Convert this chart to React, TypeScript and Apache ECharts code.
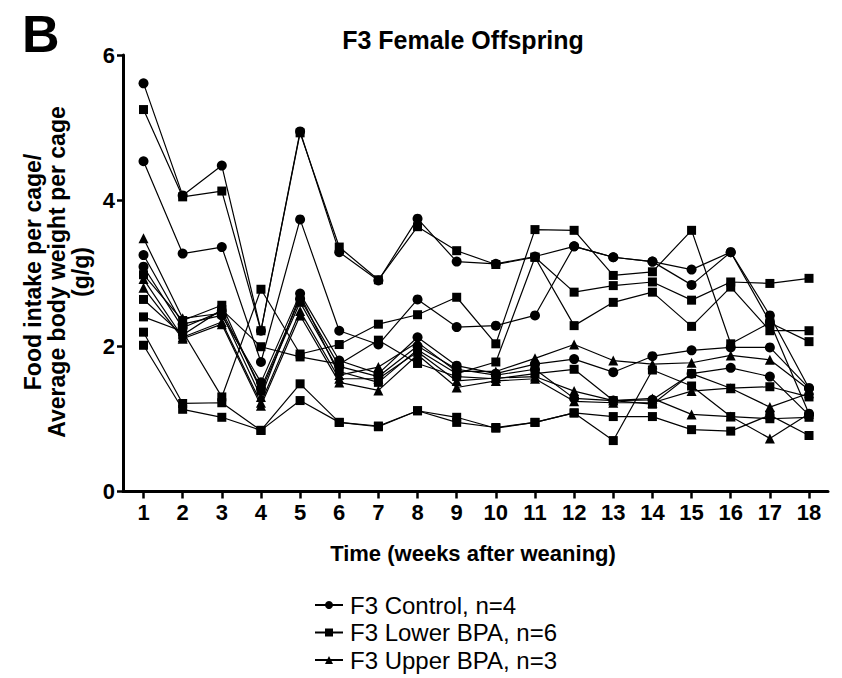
import React, { useEffect, useRef } from "react";
import * as echarts from "echarts";

const weeks = [1, 2, 3, 4, 5, 6, 7, 8, 9, 10, 11, 12, 13, 14, 15, 16, 17, 18];
const yTicks = [0, 2, 4, 6];

const controlNames = "F3 Control, n=4";
const lowerNames = "F3 Lower BPA, n=6";
const upperNames = "F3 Upper BPA, n=3";

const control1 = [5.61, 4.07, 4.48, 2.21, 4.95, 3.29, 2.9, 3.75, 3.16, 3.13, 3.23, 3.37, 3.22, 3.16, 3.05, 3.29, 2.42, 1.42];
const control2 = [4.54, 3.27, 3.36, 1.78, 3.74, 2.21, 2.02, 2.64, 2.26, 2.28, 2.42, 3.37, 3.22, 3.16, 2.84, 3.29, 2.33, 1.07];
const control3 = [3.25, 2.3, 2.42, 1.5, 2.72, 1.8, 1.62, 2.12, 1.73, 1.62, 1.75, 1.82, 1.64, 1.86, 1.94, 1.98, 1.98, 1.42];
const control4 = [3.09, 2.25, 2.48, 1.42, 2.65, 1.72, 1.58, 2.0, 1.68, 1.6, 1.68, 1.28, 1.25, 1.26, 1.62, 1.7, 1.58, 1.05];

const lower1 = [5.25, 4.05, 4.13, 2.21, 4.93, 3.36, 2.91, 3.64, 3.31, 3.12, 3.22, 2.74, 2.83, 2.88, 2.63, 2.88, 2.86, 2.93];
const lower2 = [2.4, 2.2, 1.3, 2.78, 1.89, 2.02, 2.3, 2.43, 2.67, 2.03, 3.6, 3.59, 2.97, 3.02, 3.59, 2.03, 2.32, 2.06];
const lower3 = [2.98, 2.35, 2.56, 1.38, 2.6, 1.65, 1.5, 1.95, 1.62, 1.78, 3.22, 2.28, 2.6, 2.74, 2.27, 2.81, 2.21, 2.21];
const lower4 = [2.64, 2.15, 2.5, 1.99, 1.85, 1.75, 2.08, 1.76, 1.58, 1.55, 1.62, 1.68, 1.25, 1.2, 1.62, 1.42, 1.44, 1.3];
const lower5 = [2.19, 1.21, 1.22, 0.84, 1.48, 0.95, 0.9, 1.11, 1.02, 0.87, 0.95, 1.08, 1.03, 1.03, 0.85, 0.83, 1.05, 0.77];
const lower6 = [2.01, 1.13, 1.02, 0.84, 1.25, 0.95, 0.89, 1.11, 0.95, 0.88, 0.95, 1.08, 0.7, 1.67, 1.45, 1.03, 1.0, 1.02];

const upper1 = [3.48, 2.38, 2.45, 1.3, 2.7, 1.6, 1.71, 2.05, 1.65, 1.65, 1.83, 2.02, 1.8, 1.75, 1.77, 1.87, 1.81, 1.4];
const upper2 = [2.92, 2.12, 2.33, 1.22, 2.48, 1.55, 1.55, 1.92, 1.52, 1.56, 1.58, 1.38, 1.25, 1.28, 1.06, 1.03, 0.73, 1.07];
const upper3 = [2.8, 2.1, 2.3, 1.18, 2.42, 1.5, 1.39, 1.88, 1.43, 1.52, 1.55, 1.24, 1.22, 1.22, 1.38, 1.42, 1.16, 1.35];

const FONT = "'Liberation Sans', Arial, Helvetica, sans-serif";

function makeSeries(name: string, values: number[], symbol: string, size: number) {
  return {
    type: "line",
    name,
    data: weeks.map((w, i) => [w, values[i]]),
    symbol,
    symbolSize: size,
    showSymbol: true,
    lineStyle: { color: "#000", width: 1.2 },
    itemStyle: { color: "#000", borderWidth: 0 },
    emphasis: { disabled: true },
  };
}

export default function App() {
  const ref = useRef<HTMLDivElement>(null);
  useEffect(() => {
    if (!ref.current) return;
    const chart = echarts.init(ref.current, undefined, { renderer: "svg" });
    const series = [
      ...[control1, control2, control3, control4].map((v) => makeSeries(controlNames, v, "circle", 10)),
      ...[lower1, lower2, lower3, lower4, lower5, lower6].map((v) => makeSeries(lowerNames, v, "rect", 9)),
      ...[upper1, upper2, upper3].map((v) => makeSeries(upperNames, v, "triangle", 10)),
    ];
    chart.setOption({
      animation: false,
      backgroundColor: "#fff",
      title: {
        text: "F3 Female Offspring",
        left: 458,
        top: 22,
        textAlign: "center",
        textStyle: { fontFamily: FONT, fontWeight: "bold", fontSize: 25, color: "#000" },
      },
      legend: {
        orient: "vertical",
        left: 314,
        top: 593,
        height: 140,
        padding: 0,
        data: [controlNames, lowerNames, upperNames],
        itemWidth: 28,
        itemHeight: 10,
        itemGap: 3.5,
        textStyle: { fontFamily: FONT, fontSize: 24, color: "#000", padding: [0, 0, 0, 2] },
        selectedMode: false,
      },
      grid: { left: 123, right: 14, top: 55, bottom: 186.5, containLabel: false, outerBoundsMode: "none" },
      xAxis: {
        type: "value",
        min: 0.476,
        max: 18.485,
        axisLine: { show: true, lineStyle: { color: "#000", width: 3 } },
        axisTick: { show: true, customValues: weeks, length: 7, lineStyle: { color: "#000", width: 2.5 } },
        axisLabel: {
          customValues: weeks,
          margin: 10,
          fontFamily: FONT,
          fontWeight: "bold",
          fontSize: 22,
          color: "#000",
        },
        splitLine: { show: false },
      },
      yAxis: {
        type: "value",
        min: 0,
        max: 6,
        interval: 2,
        axisLine: { show: true, lineStyle: { color: "#000", width: 3 } },
        axisTick: { show: true, length: 6, lineStyle: { color: "#000", width: 2.5 } },
        axisLabel: {
          margin: 8,
          fontFamily: FONT,
          fontWeight: "bold",
          fontSize: 22,
          color: "#000",
          formatter: (v: number) => (yTicks.includes(v) ? String(v) : ""),
        },
        splitLine: { show: false },
      },
      graphic: [
        {
          type: "text",
          left: 22,
          top: 8,
          style: { text: "B", font: `bold 52px ${FONT}`, fill: "#000" },
        },
        {
          type: "text",
          x: 57,
          y: 272,
          rotation: Math.PI / 2,
          style: {
            text: "Food intake per cage/\nAverage body weight per cage\n(g/g)",
            font: `bold 23px ${FONT}`,
            lineHeight: 24,
            fill: "#000",
            align: "center",
            verticalAlign: "middle",
          },
        },
        {
          type: "text",
          x: 473,
          y: 553,
          style: {
            text: "Time (weeks after weaning)",
            font: `bold 22px ${FONT}`,
            fill: "#000",
            align: "center",
            verticalAlign: "middle",
          },
        },
      ],
      series,
    });
    return () => chart.dispose();
  }, []);
  return (
    <div
      ref={ref}
      style={{ position: "absolute", left: 0, top: 0, width: 842, height: 678, background: "#fff" }}
    />
  );
}
